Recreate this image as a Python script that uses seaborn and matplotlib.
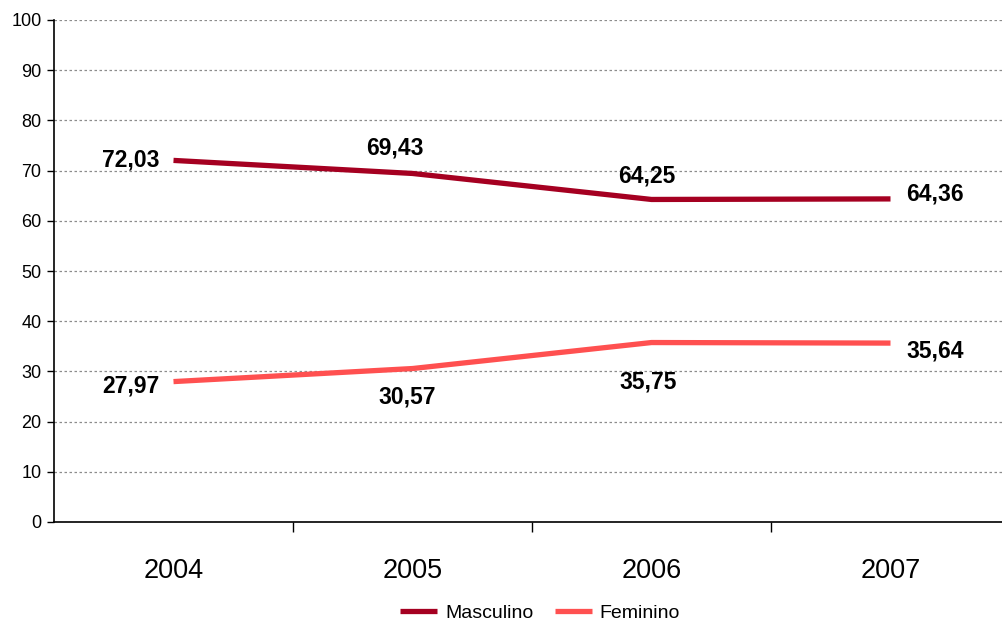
import matplotlib
matplotlib.use("Agg")
import matplotlib.pyplot as plt
import seaborn as sns
import pandas as pd

years = ["2004", "2005", "2006", "2007"]
masculino = [72.03, 69.43, 64.25, 64.36]
feminino = [27.97, 30.57, 35.75, 35.64]
series_names = ["Masculino", "Feminino"]
colors = ["#A50021", "#FF5050"]

sns.set_theme(style="white")
plt.rcParams["font.family"] = ["Liberation Sans", "DejaVu Sans"]
plt.rcParams["text.color"] = "black"
plt.rcParams["xtick.color"] = "black"
plt.rcParams["ytick.color"] = "black"

df = pd.DataFrame({
    "pos": list(range(len(years))) * 2,
    "value": masculino + feminino,
    "serie": [series_names[0]] * len(years) + [series_names[1]] * len(years),
})

fig = plt.figure(figsize=(10.02, 6.22), dpi=100)
ax = fig.add_axes([54 / 1002, 1 - 522 / 622, 956 / 1002, 502 / 622])

sns.lineplot(data=df, x="pos", y="value", hue="serie", palette=colors,
             linewidth=3.8, ax=ax, legend=False, sort=False)
for ln in ax.get_lines():
    ln.set_solid_capstyle("butt")

ax.set_xlim(-0.5, 3.5)
ax.set_ylim(0, 100)
ax.set_yticks(range(0, 101, 10))
ax.tick_params(axis="y", labelsize=13, length=5, width=1, color="black",
               labelcolor="black", pad=4, direction="out", left=True)
ax.yaxis.grid(True, linestyle=(0, (2, 2)), color="#8c8c8c", linewidth=0.9)
ax.xaxis.grid(False)
ax.set_axisbelow(True)

ax.set_xticks([0.5, 1.5, 2.5])
ax.set_xticklabels([])
ax.tick_params(axis="x", which="major", length=7, width=1, color="black", direction="out", bottom=True)
ax.set_xticks(range(len(years)), minor=True)
ax.set_xticklabels(years, minor=True, fontsize=19.5)
ax.tick_params(axis="x", which="minor", length=0, pad=26, labelcolor="black")
ax.set_xlabel("")
ax.set_ylabel("")

for s in ["top", "right"]:
    ax.spines[s].set_visible(False)
for s in ["left", "bottom"]:
    ax.spines[s].set_color("black")
    ax.spines[s].set_linewidth(1.2)

m_offsets = [(-14, 0, "right"), (-18, 25, "center"), (-5, 23, "center"), (16, 5, "left")]
f_offsets = [(-14, -4, "right"), (-5, -28, "center"), (-3, -39, "center"), (16, -8, "left")]
for vals, offs in [(masculino, m_offsets), (feminino, f_offsets)]:
    for i, (v, (dx, dy, ha)) in enumerate(zip(vals, offs)):
        ax.annotate(f"{v:.2f}".replace(".", ","), xy=(i, v), xytext=(dx, dy),
                    textcoords="offset pixels", ha=ha, va="center",
                    fontsize=16.5, fontweight="bold", color="black")

handles = [plt.Line2D([], [], color=c, linewidth=3.8, solid_capstyle="butt") for c in colors]
leg = fig.legend(handles, series_names, loc="center", bbox_to_anchor=(0.539, 0.014),
                 ncol=2, frameon=False, fontsize=14, handlelength=1.9,
                 handletextpad=0.4, columnspacing=1.1)
for t in leg.get_texts():
    t.set_color("black")

fig.savefig("out.png", dpi=100)
